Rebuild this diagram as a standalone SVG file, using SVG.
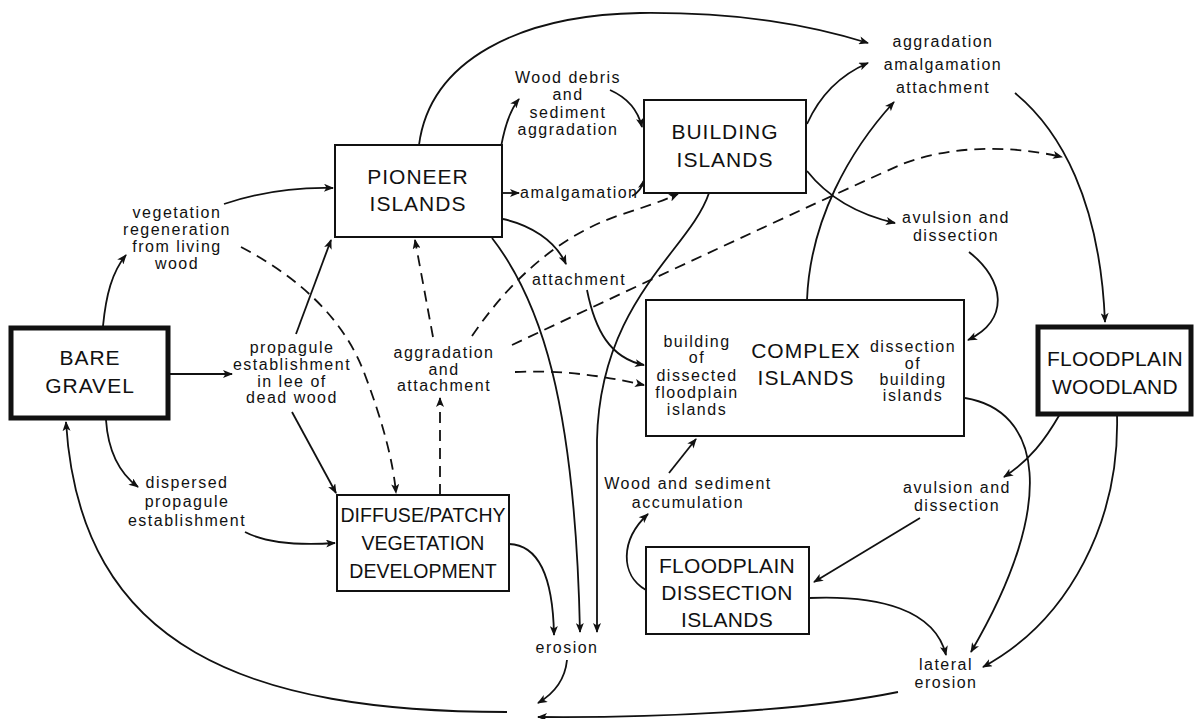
<svg xmlns="http://www.w3.org/2000/svg" width="1198" height="719" viewBox="0 0 1198 719">
<style>
.box{fill:#fff;stroke:#111;stroke-width:2}
.thick{fill:#fff;stroke:#111;stroke-width:5}
.bt{font-family:"Liberation Sans",Arial,sans-serif;font-size:21px;letter-spacing:1px;fill:#111;text-anchor:middle}
.fp{font-size:21px;letter-spacing:0.3px}
.df{font-size:19.5px;letter-spacing:0}
.lb{font-family:"Liberation Sans",Arial,sans-serif;font-size:16px;letter-spacing:1.5px;fill:#111;text-anchor:middle}
.c{fill:none;stroke:#111;stroke-width:1.8;marker-end:url(#ah)}
.d{stroke-dasharray:11 7}
</style>
<defs>
<marker id="ah" viewBox="0 0 10 8" refX="9" refY="4" markerWidth="11" markerHeight="8" markerUnits="userSpaceOnUse" orient="auto">
<path d="M0,0 L10,4 L0,8 L2.5,4 Z" fill="#111"/>
</marker>
</defs>
<rect width="1198" height="719" fill="#fff"/>
<g id="connectors">
<path class="c" d="M103,326 C106,295 112,272 126,255"/>
<path class="c" d="M224,204 C260,192 295,187 333,188"/>
<path class="c d" d="M241,247 C300,278 345,320 365,375 C382,420 393,460 396,493"/>
<path class="c" d="M296,334 L331,240"/>
<path class="c" d="M168,374 L232,374"/>
<path class="c" d="M292,412 L336,493"/>
<path class="c" d="M106,420 C108,450 118,472 138,487"/>
<path class="c" d="M245,532 C270,545 305,545 335,543"/>
<path class="c d" d="M440,495 L440,398"/>
<path class="c d" d="M433,337 L415,240"/>
<path class="c d" d="M472,336 C510,280 560,235 620,215 C645,207 665,200 678,194"/>
<path class="c d" d="M512,345 C650,280 800,210 900,165 C950,145 1010,145 1062,157"/>
<path class="c d" d="M515,372 C560,370 600,375 644,385"/>
<path class="c" d="M501,147 C505,125 510,110 519,99"/>
<path class="c" d="M419,145 C430,60 520,15 640,13 C740,12 810,25 868,43"/>
<path class="c" d="M610,90 C628,98 638,110 642,127"/>
<path class="c" d="M502,193 L519,193"/>
<path class="c" d="M632,196 C638,193 642,188 644,180"/>
<path class="c" d="M503,219 C530,225 555,240 566,264"/>
<path class="c" d="M492,238 C540,300 575,400 580,632"/>
<path class="c" d="M709,193 C690,250 600,300 597,440 L597,632"/>
<path class="c" d="M509,544 C540,545 553,580 554,635"/>
<path class="c" d="M567,660 C565,680 555,693 538,703"/>
<path class="c" d="M898,692 C800,712 650,718 538,717"/>
<path class="c" d="M507,712 C250,712 80,650 66,422"/>
<path class="c" d="M587,290 C595,330 610,358 644,365"/>
<path class="c" d="M807,124 C820,95 840,75 868,63"/>
<path class="c" d="M807,300 C810,220 850,150 894,102"/>
<path class="c" d="M807,171 C830,200 860,215 895,223"/>
<path class="c" d="M969,252 C1005,280 1010,320 968,340"/>
<path class="c" d="M1015,93 C1060,130 1100,200 1105,322"/>
<path class="c" d="M965,398 C1040,410 1060,500 971,652"/>
<path class="c" d="M1060,414 C1045,440 1030,460 1004,477"/>
<path class="c" d="M1117,414 C1120,520 1070,620 983,667"/>
<path class="c" d="M920,518 L814,582"/>
<path class="c" d="M809,598 C880,595 935,610 946,655"/>
<path class="c" d="M646,590 C620,575 620,540 648,514"/>
<path class="c" d="M669,473 L696,439"/>
<path class="c" d="M726,328 C745,310 770,312 783,333"/>
<path class="c" d="M830,328 C850,310 875,312 887,333"/>
<path class="c" d="M884,413 C868,428 840,430 827,408"/>
<path class="c" d="M792,413 C775,428 748,428 735,409"/>
</g>
<g id="labels">
<text class="lb"><tspan x="177" y="218">vegetation</tspan><tspan x="177" y="235">regeneration</tspan><tspan x="177" y="252">from living</tspan><tspan x="177" y="269">wood</tspan></text>
<text class="lb"><tspan x="568" y="83">Wood debris</tspan><tspan x="568" y="100">and</tspan><tspan x="568" y="118">sediment</tspan><tspan x="568" y="135">aggradation</tspan></text>
<text class="lb" style="text-anchor:start" x="520" y="198">amalgamation</text>
<text class="lb" x="579" y="285">attachment</text>
<text class="lb"><tspan x="943" y="47">aggradation</tspan><tspan x="943" y="70">amalgamation</tspan><tspan x="943" y="93">attachment</tspan></text>
<text class="lb"><tspan x="956" y="223">avulsion and</tspan><tspan x="956" y="241">dissection</tspan></text>
<text class="lb"><tspan x="292" y="353">propagule</tspan><tspan x="292" y="370">establishment</tspan><tspan x="292" y="387">in lee of</tspan><tspan x="292" y="403">dead wood</tspan></text>
<text class="lb"><tspan x="444" y="358">aggradation</tspan><tspan x="444" y="375">and</tspan><tspan x="444" y="391">attachment</tspan></text>
<text class="lb"><tspan x="187" y="488">dispersed</tspan><tspan x="187" y="507">propagule</tspan><tspan x="187" y="526">establishment</tspan></text>
<text class="lb"><tspan x="688" y="489">Wood and sediment</tspan><tspan x="688" y="508">accumulation</tspan></text>
<text class="lb"><tspan x="957" y="493">avulsion and</tspan><tspan x="957" y="511">dissection</tspan></text>
<text class="lb" x="567" y="653">erosion</text>
<text class="lb"><tspan x="946" y="670">lateral</tspan><tspan x="946" y="688">erosion</tspan></text>
</g>
<g id="bare-gravel">
<rect class="thick" x="11" y="328" width="157" height="90"/>
<text class="bt"><tspan x="90" y="365">BARE</tspan><tspan x="90" y="393">GRAVEL</tspan></text>
</g>
<g id="pioneer-islands">
<rect class="box" x="335" y="145" width="167" height="92"/>
<text class="bt"><tspan x="418" y="184">PIONEER</tspan><tspan x="418" y="211">ISLANDS</tspan></text>
</g>
<g id="building-islands">
<rect class="box" x="644" y="100" width="162" height="93"/>
<text class="bt"><tspan x="725" y="139">BUILDING</tspan><tspan x="725" y="167">ISLANDS</tspan></text>
</g>
<g id="complex-islands">
<rect class="box" x="646" y="300" width="318" height="136"/>
<text class="bt"><tspan x="806" y="358">COMPLEX</tspan><tspan x="806" y="385">ISLANDS</tspan></text>
<text class="lb"><tspan x="697" y="347">building</tspan><tspan x="697" y="363">of</tspan><tspan x="697" y="381">dissected</tspan><tspan x="697" y="398">floodplain</tspan><tspan x="697" y="415">islands</tspan></text>
<text class="lb"><tspan x="913" y="352">dissection</tspan><tspan x="913" y="369">of</tspan><tspan x="913" y="385">building</tspan><tspan x="913" y="401">islands</tspan></text>
</g>
<g id="floodplain-woodland">
<rect class="thick" x="1038" y="327" width="153" height="87"/>
<text class="bt fp"><tspan x="1115" y="366">FLOODPLAIN</tspan><tspan x="1115" y="394">WOODLAND</tspan></text>
</g>
<g id="diffuse-patchy">
<rect class="box" x="337" y="495" width="172" height="96"/>
<text class="bt df"><tspan x="423" y="522">DIFFUSE/PATCHY</tspan><tspan x="423" y="550">VEGETATION</tspan><tspan x="423" y="578">DEVELOPMENT</tspan></text>
</g>
<g id="floodplain-dissection">
<rect class="box" x="646" y="547" width="163" height="87"/>
<text class="bt fp"><tspan x="727" y="573">FLOODPLAIN</tspan><tspan x="727" y="600">DISSECTION</tspan><tspan x="727" y="627">ISLANDS</tspan></text>
</g>
</svg>
